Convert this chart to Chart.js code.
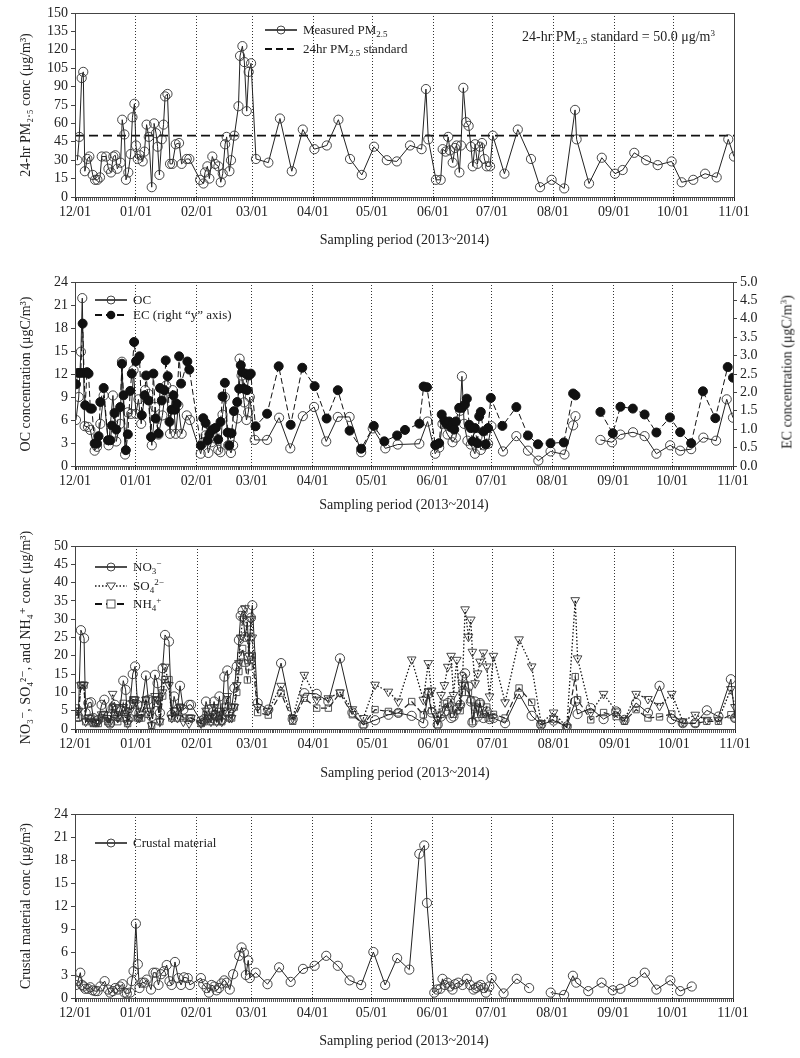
<!DOCTYPE html>
<html>
<head>
<meta charset="utf-8">
<script src="https://cdn.jsdelivr.net/npm/chart.js@4.4.1/dist/chart.umd.min.js"></script>
<style>
  html, body { margin: 0; padding: 0; background: #fff; }
  #wrap { position: relative; width: 800px; height: 1058px; font-family: 'Liberation Serif', 'DejaVu Serif', serif; color: #222; }
  #wrap canvas { position: absolute; left: 0; }
  .lg { position: absolute; display: flex; align-items: center; height: 16px; font-size: 13px; white-space: nowrap; }
  .lg svg { margin-right: 6px; }
  .lg sub, .note sub { font-size: 9px; vertical-align: -3px; }
  .lg sup, .note sup, .rt sup { font-size: 9px; vertical-align: 5px; }
  .note { position: absolute; font-size: 14px; white-space: nowrap; }
  .rt { position: absolute; font-size: 14px; white-space: nowrap; transform: translate(-50%, -50%) rotate(-90deg); }
</style>
</head>
<body>
<div id="wrap">
  <canvas id="c1" width="800" height="252" style="top:0px"></canvas>
  <canvas id="c2" width="800" height="264" style="top:252px"></canvas>
  <canvas id="c3" width="800" height="268" style="top:516px"></canvas>
  <canvas id="c4" width="800" height="274" style="top:784px"></canvas>
</div>
<script>
// 12/01/2013 기준 경과일(day) 로 x 값 표현
const MONTH_DAYS   = [0, 31, 62, 90, 121, 151, 182, 212, 243, 274, 304, 335];
const MONTH_LABELS = ['12/01', '01/01', '02/01', '03/01', '04/01', '05/01', '06/01', '07/01', '08/01', '09/01', '10/01', '11/01'];
const DAY_TICKS    = Array.from({ length: 336 }, (_, i) => i);

// ── PM2.5 ──
const pmDays = [1.2,2.2,3.4,4.2,5,6.3,7.3,9,10.2,11.4, 12.7,13.6,15.8,17,18.3,19.5,20.5,21.5,23.2,24,
  25.1,25.9,27.1,28.3,29.2,30.2,31,31.9,33,34.4, 35.3,36.4,37.5,39,40.2,41.2,42,42.9,44.1,45,
  45.8,47,48.3,49.5,51.2,52.9,54.2,56.8,58.1,63.6, 65.3,66.1,67.3,68.3,69.8,71.2,72.9,74.1,75.1,76.3,
  77.1,78.5,79.3,81,83.1,83.9,85.1,86.1,87.3,88.3, 89.5,92,98.3,104.2,110.2,115.8,121.7,128,133.9,139.8,
  145.8,152,158.5,163.6,170.3,176.2,178.4,179.6,183.5,185.9, 186.9,188.4,189.7,190.6,192,193.2,194,195.4,196.2,197.4,
  198.8,200.1,201.3,202.2,203.4,204.6,205.9,206.9,208.1,209.3, 211,212.4,218.3,225.1,231.8,236.4,242.3,248.7,254.2,255,
  261.3,267.8,274.5,278.4,284.3,290.3,296.2,303.3,308.4,314.3, 320.3,326.2,332.1,335];
const pmVals = [30,49,97,102,21,31,33,18,14,14, 16,33,33,23,20,33,34,23,28,63,
  51,14,20,35,65,76,42,31,34,29, 37,59,49,8,60,52,41,18,47,59,
  82,84,27,27,43,44,27,31,31,14, 11,20,25,15,33,27,25,12,19,43,
  49,21,30,50,74,115,123,110,70,102, 109,31,28,64,21,55,39,42,63,31,
  18,41,30,29,42,39,88,47,14,14, 39,37,49,38,28,40,42,20,42,89,
  61,58,41,25,43,27,41,44,31,25, 25,50,19,55,31,8,14,7,71,47,
  11,32,19,22,36,30,26,29,12,14, 19,16,47,33];
const stdDays = [0, 335];
const stdVals = [50, 50];

// ── OC / EC ──
const ocDays = [0.5,1.9,3,3.7,4.9,6.6,7.8,10,11.2,12.9, 14.6,17.1,19.3,21,23,23.9,25.5,26.9,28.6,29.8,
  31,32.3,33.7,35.7,37.4,39.1,40.8,42.5,44.5,46.4, 48.4,49.7,51.3,52.6,54.3,56.9,58.5,64,65.3,66.5,
  67.9,69.5,71.2,72.9,74.1,75.1,76.3,78,79.4,80.5, 82.6,83.8,84.8,86.1,87.3,88.2,89,91.5,97.8,103.9,
  109.6,116,121.7,127.9,133.8,139.8,145.7,151.6,158,164.3, 175.3,179.5,183.4,185.4,187.1,189.7,192.2,193.9,196.1,197,
  198.1,199.8,201.5,203.6,204.9,206.6,208.3,210.3,212,217.9, 224.7,230.6,235.9,242.1,249.2,253.6,254.8,260,267.5,273.4,
  277.7,284.1,290,296,303,308.1,313.7,319.9,326.4,331.8, 335];
const ocVals = [6.0,9.0,14.9,21.9,5.2,5.1,4.7,2.0,2.5,5.5, 9.2,2.7,9.2,3.2,5.5,13.6,1.5,7.0,6.8,12.5,
  6.8,8.7,5.5,9.9,9.4,2.7,7.7,4.1,6.6,10.5, 4.2,9.9,4.2,7.9,4.2,6.6,6.0,1.6,3.1,4.0,
  1.7,3.1,3.6,2.1,1.8,6.7,9.0,2.7,1.7,2.7, 6.2,14.0,11.8,8.3,6.0,7.0,9.0,3.4,3.4,6.3,
  2.3,6.5,7.7,3.2,6.4,6.4,1.8,4.9,2.3,2.8, 2.9,5.8,1.6,2.4,5.5,4.1,3.1,3.7,7.2,11.7,
  5.5,3.3,2.8,1.6,3.8,2.1,2.7,2.9,5.2,1.9, 3.9,2.0,0.7,1.9,1.5,5.3,6.5,null,3.4,3.1,
  4.1,4.4,3.9,1.6,2.7,2.0,2.2,3.7,3.3,8.7, 6.3];
const ecDays = [0.5,1.5,2.9,3.9,4.6,5.2,6.1,6.9,7.8,8.6, 10,11.2,12,12.9,14.6,16.8,18,18.8,20.1,21,
  23,23.9,24.7,25.9,26.9,28.1,28.9,30.1,31.1,32.8, 34,35.4,36.2,37.4,38.7,39.9,41.1,42.5,43.3,44.2,
  45.5,46.2,47.2,48.1,49.2,50.1,50.9,51.8,53,54, 57.2,58.2,64.1,65.3,66.5,67.5,68.4,69.5,70.7,71.7,
  72.9,74.1,75.1,76.3,77.7,78.5,79.7,80.9,82.6,83.6, 84.4,85.1,86,87,87.6,88.5,89.5,91.9,97.8,103.7,
  109.8,115.7,122,128.1,133.8,139.8,145.7,152.1,157.5,164, 168,175.3,177.5,179.2,183.4,185.4,186.7,188,189.2,190.5,
  191.4,192.2,193.1,193.9,195.6,197,198.5,199.5,200.7,201.5, 202.4,203.6,204.9,205.8,206.6,207.9,209.1,210.3,211.7,217.6,
  224.7,230.6,235.7,242.1,248.9,253.6,254.8,260,267.5,273.8, 277.7,284,290,296,302.9,308.1,313.7,319.7,326,332.3, 335];
const ecVals = [2.22,2.53,2.53,3.87,2.53,1.65,2.55,2.51,1.56,1.56, 0.61,0.61,0.81,1.74,2.12,0.70,0.70,1.10,1.44,0.99,
  1.60,2.78,1.92,0.43,0.86,2.04,2.51,3.37,2.85,2.98, 1.38,1.92,2.46,1.78,0.79,2.51,1.29,0.88,2.12,1.78,
  2.06,2.87,2.44,1.20,1.53,1.92,1.53,1.69,2.98,2.24, 2.84,2.62,0.56,1.30,1.17,0.70,0.86,0.97,1.01,1.04,
  0.72,1.20,1.89,2.26,0.91,0.56,0.89,1.49,1.74,2.10, 2.74,2.55,2.10,2.51,2.06,2.46,2.51,1.08,1.42,2.71,
  1.12,2.67,2.17,1.29,2.06,0.96,0.47,1.09,0.67,0.83, 0.98,1.15,2.16,2.14,0.57,0.62,1.40,1.23,1.14,1.21,
  1.05,1.14,0.99,1.21,1.58,1.58,1.67,1.83,1.12,1.03, 0.67,1.03,0.62,1.35,1.47,0.94,0.59,1.03,1.85,1.09,
  1.60,0.83,0.59,0.62,0.64,1.97,1.92,null,1.47,0.89, 1.61,1.56,1.40,0.91,1.32,0.92,0.62,2.03,1.30,2.69, 2.4];

// ── 이온 성분 (같은 샘플링 날짜) ──
const ionDays = [0.8,1.7,3,4.6,5.4,6.8,8.1,9.3,10.7,11.8, 13.5,14.9,16.6,17.8,19.1,20.3,21.7,22.8,24.5,25.7,
  26.7,27.9,29.3,30.5,31.8,32.7,33.8,36,37.2,38.9, 40.6,41.9,43.1,44.5,45.7,47.7,49.1,50.3,52,53.3,
  55,57.9,58.9,64,65.5,66.5,67.7,69,70.6,71.9, 73.3,74.5,75.8,77.3,78.3,79.5,80.9,82.1,83.2,84.1,
  85.1,86.3,87.5,88.3,89.3,90,92.7,98.1,104.6,110.5, 116.4,122.7,128.6,134.5,140.8,146.4,152.3,159.1,164.1,170.9,
  176.8,179.3,181,184.1,185.8,187.5,189.2,190.9,192.1,193.8, 195.5,196.6,198,199.7,200.9,201.7,203.1,204.4,205.6,207.3,
  209,210.4,212.4,218.3,225.4,231.8,236.6,242.9,249.6,253.9, 255.1,261.8,268.3,274.7,278.9,284.8,290.8,296.7,302.9,308.5,
  314.8,320.7,326.6,332.9,335];
const no3Vals = [5.4,3.4,27,24.8,4.4,7.1,7.3,3.0,2.1,2.5, 6.6,8.0,3.4,1.5,5.7,6.6,3.4,5.3,13.2,10.7,
  2.5,6.6,15.0,17.1,6.6,4.4,6.2,14.6,8.0,3.4, 14.8,12.5,4.4,16.6,25.7,23.9,3.9,8.9,5.3,11.8,
  5.3,6.6,6.6,2.1,2.7,7.5,5.3,3.0,7.5,3.4, 8.9,2.5,14.3,16.0,4.4,5.7,11.2,17.1,24.3,30.9,
  32.3,25.2,29.3,19.8,30.4,33.8,7.1,5.3,18.0,2.7, 9.8,9.6,7.5,19.3,4.5,1.2,2.4,3.9,4.4,3.6,
  1.6,9.6,4.5,1.2,3.4,4.8,7.1,3.0,3.4,5.3, 6.6,14.3,15.2,11.6,7.5,1.8,7.5,3.4,7.1,3.0,
  4.8,2.7,3.0,1.6,9.6,3.6,1.2,2.3,0.7,7.5, 4.1,5.7,2.7,4.8,2.5,7.1,4.4,11.8,2.7,1.6,
  1.6,5.1,3.4,13.6,3];
const so4Vals = [5,5,12,12,2,3,2,2,2,2, 4,4,3,2,9.6,6,3,4,6,3,
  1.5,5,7,8,3,3,4,8,5,1, 9,8,2,10,17,12,3,5,3,6,
  2,1.5,3,1.5,2,5,3,2,6,2, 5,2,5,9,3,3,6,12,18,25,
  30,33,25,20,30,25,6,5,11.8,3, 14.8,8,8.4,10,5.4,3,12.1,10.2,7.5,19.0,
  8,18,10.5,2.5,9.3,12,17,20,9.3,18.9, 6.2,12,32.7,25.2,29.9,21.1,12.5,15.2,18.4,20.9,
  17.1,8.9,20,7.3,24.5,17.1,1.6,4.5,0.5,35.2, 19.3,4.5,9.6,4.8,2.5,9.6,8.2,6.3,9.6,2.1,
  3.9,2.5,2.5,10.9,6];
const nh4Vals = [3,3,12,12,2,3,3,1.5,1.5,1.5, 3,4,2,1.5,6,4,2,3,7,5,
  1.5,3,8,8,3,3,3,8,4,1, 8,7,2,9,13.5,13.5,3,5,3,6,
  3,3,3,1.5,2,4,3,2,4,2, 4,2,6,8,3,3,6,10,15.7,20,
  22,18,13.4,17,19,20,4.5,3.8,9.8,2.1, 8.4,5.7,5.7,9.8,3.9,1.2,5.3,4.8,4.4,7.5,
  3.9,10.2,5,1.2,4,7,6,8,4,6, 5,10,12,10,8,2,6,4,7,4,
  6,3,4,3,11.2,7.3,1.2,2.7,0.5,14.3, 8,2.5,4.5,3.4,2.1,5.3,3,3.3,4.1,1.6,
  1.5,2.1,2.1,3.9,3];

// ── 지각 물질 ──
const crDays = [0.5,1.5,2.7,3.6,4.4,5.2,6.6,7.8,9,10.3, 11.5,12.9,15.1,16.8,17.9,19.3,20.5,21.8,23,24.2,
  25.2,26.4,28.1,28.9,29.8,31,32,32.8,34,35.4, 36.5,38.7,39.9,41.1,42.5,43.8,45.3,46.7,48.1,49.2,
  50.9,52.6,54,55.5,57.4,58.5,64.1,65.3,67,68.2, 69.5,70.9,72.1,73.3,74.6,76,77.2,78.8,80.5,83.6,
  84.8,86,87,88.2,89,92,98,103.9,109.8,116.1, 122,127.9,133.8,139.8,145.7,151.9,157.9,164,170.2,175.3,
  177.8,179.2,182.9,184.3,186,187.1,188.3,189.6,191,192.2, 193.5,195.1,197.3,199.5,201.2,202.9,204.1,205.3,206.6,208,
  209.2,210.9,212.1,218.2,224.9,231.2,237,242.2,249,253.5, 255.2,261.3,268.1,273.8,277.7,284.2,290.1,296,303.1,308.1, 314];
const crVals = [1.7,2.2,3.3,1.7,1.5,1.2,1.2,1.4,1.0,0.9, 0.9,1.5,2.2,1.1,0.7,0.9,1.3,1.1,1.5,1.8,
  0.7,0.6,0.7,2.2,3.5,9.7,4.4,1.3,2.0,2.0, 2.4,1.1,3.3,3.3,1.7,3.1,3.5,4.3,2.2,1.7,
  4.7,2.6,1.7,2.7,2.6,1.7,2.6,1.8,1.3,0.7, 1.7,1.5,1.0,1.3,1.9,2.3,2.0,1.1,3.1,5.5,
  6.6,5.9,3.0,4.9,2.6,3.3,1.8,4.0,2.1,3.8, 4.2,5.5,4.2,2.3,1.7,6.0,1.7,5.2,3.7,18.8,
  19.9,12.4,0.7,1.1,1.2,2.5,1.7,2.0,1.5,1.1, 1.8,2.0,1.7,2.5,1.7,1.1,1.3,1.5,1.7,1.3,
  0.7,1.5,2.6,0.6,2.5,1.3,null,0.7,0.4,2.9, 2.0,0.9,2.0,1.0,1.2,2.1,3.3,1.1,2.3,0.9, 1.5];

const INK  = '#222';
const AXIS = '#444';
const FONT = "'Liberation Serif', 'DejaVu Serif', serif";
Chart.defaults.font.family = FONT;
Chart.defaults.font.size   = 14;
Chart.defaults.color       = INK;

const pts = (xs, ys) => xs.map((x, i) => ({ x, y: ys[i] }));

// 플롯 영역 테두리
const frame = {
  id: 'frame',
  afterDatasetsDraw(chart) {
    const { ctx, chartArea: a } = chart;
    ctx.save();
    ctx.strokeStyle = AXIS;
    ctx.lineWidth = 1;
    ctx.strokeRect(Math.round(a.left) + 0.5, Math.round(a.top) + 0.5, Math.round(a.width), Math.round(a.height));
    ctx.restore();
  },
};

function xScale(axisH, titlePad) {
  return {
    type: 'linear', min: 0, max: 335,
    afterBuildTicks: (s) => { s.ticks = DAY_TICKS.map((v) => ({ value: v })); },
    afterFit: (s) => { s.height = axisH; },
    ticks: {
      autoSkip: false, maxRotation: 0, minRotation: 0, padding: 3,
      callback: (v) => { const i = MONTH_DAYS.indexOf(v); return i >= 0 ? MONTH_LABELS[i] : ''; },
    },
    grid: {
      color: (c) => (c.tick && MONTH_DAYS.includes(c.tick.value)) ? '#333' : 'rgba(0,0,0,0)',
      tickColor: (c) => (c.tick && MONTH_DAYS.includes(c.tick.value)) ? '#222' : '#555',
      tickLength: 4, lineWidth: 1,
    },
    border: { color: AXIS, dash: [1, 2] },
    title: { display: true, text: 'Sampling period (2013~2014)', padding: { top: 0, bottom: titlePad } },
  };
}

function yScale(min, max, step, title, extra) {
  return Object.assign({
    type: 'linear', position: 'left', min, max,
    afterFit: (s) => { s.width = 75; },
    ticks: { stepSize: step, padding: 3, autoSkip: false },
    grid: { drawOnChartArea: false, tickLength: 4, color: AXIS },
    border: { color: AXIS },
    title: { display: !!title, text: title, padding: { top: 18, bottom: 0 } },
  }, extra || {});
}

const base = (padTop, padRight) => ({
  responsive: false,
  animation: false,
  layout: { padding: { top: padTop, right: padRight, left: 0, bottom: 0 } },
  plugins: { legend: { display: false }, tooltip: { enabled: false } },
});

const openCircle = { pointStyle: 'circle', pointRadius: 4.6, pointBackgroundColor: 'rgba(255,255,255,0)', pointBorderColor: '#333', pointBorderWidth: 0.9 };

// ── 1. PM2.5 ──
new Chart(document.getElementById('c1'), {
  type: 'line',
  data: {
    datasets: [
      Object.assign({ data: pts(pmDays, pmVals), borderColor: INK, borderWidth: 1, tension: 0 }, openCircle),
      { data: pts(stdDays, stdVals), borderColor: '#111', borderWidth: 1.8, borderDash: [9, 5], pointRadius: 0 },
    ],
  },
  options: Object.assign(base(13, 66), {
    scales: {
      x: xScale(55, 3.6),
      y: yScale(0, 150, 15, '24-hr PM\u2082.\u2085 conc (\u03bcg/m\u00b3)'),
    },
  }),
  plugins: [frame],
});

// ── 2. OC / EC ──
new Chart(document.getElementById('c2'), {
  type: 'line',
  data: {
    datasets: [
      { data: pts(ecDays, ecVals), yAxisID: 'y1', order: 0, borderColor: '#111', borderWidth: 1, borderDash: [6, 3],
        pointStyle: 'circle', pointRadius: 4.5, pointBackgroundColor: '#111', pointBorderColor: '#111', pointBorderWidth: 1 },
      Object.assign({ data: pts(ocDays, ocVals), yAxisID: 'y', order: 1, borderColor: INK, borderWidth: 1 }, openCircle),
    ],
  },
  options: Object.assign(base(30, 0), {
    scales: {
      x: xScale(50, 2.6),
      y: yScale(0, 24, 3, 'OC concentration (\u03bcgC/m\u00b3)'),
      y1: yScale(0, 5, 0.5, '', {
        position: 'right',
        afterFit: (s) => { s.width = 67; },
        ticks: { stepSize: 0.5, padding: 3, autoSkip: false, callback: (v) => v.toFixed(1) },
      }),
    },
  }),
  plugins: [frame],
});

// ── 3. NO3, SO4, NH4 ──
new Chart(document.getElementById('c3'), {
  type: 'line',
  data: {
    datasets: [
      Object.assign({ data: pts(ionDays, no3Vals), borderColor: INK, borderWidth: 1 }, openCircle),
      { data: pts(ionDays, so4Vals), borderColor: '#111', borderWidth: 1.3, borderDash: [1.5, 2],
        pointStyle: 'triangle', pointRotation: 180, pointRadius: 5, pointBackgroundColor: 'rgba(255,255,255,0)', pointBorderColor: '#333', pointBorderWidth: 0.9 },
      { data: pts(ionDays, nh4Vals), borderColor: '#222', borderWidth: 1.2, borderDash: [6, 3],
        pointStyle: 'rect', pointRadius: 4.5, pointBackgroundColor: 'rgba(255,255,255,0)', pointBorderColor: '#444', pointBorderWidth: 0.9 },
    ],
  },
  options: Object.assign(base(30, 65), {
    scales: {
      x: xScale(55, 2.6),
      y: yScale(0, 50, 5, 'NO\u2083\u207b, SO\u2084\u00b2\u207b, and NH\u2084\u207a conc (\u03bcg/m\u00b3)'),
    },
  }),
  plugins: [frame],
});

// ── 4. Crustal material ──
new Chart(document.getElementById('c4'), {
  type: 'line',
  data: {
    datasets: [
      Object.assign({ data: pts(crDays, crVals), borderColor: INK, borderWidth: 1 }, openCircle),
    ],
  },
  options: Object.assign(base(30, 67), {
    scales: {
      x: xScale(60, 8.6),
      y: yScale(0, 24, 3, 'Crustal material conc (\u03bcg/m\u00b3)'),
    },
  }),
  plugins: [frame],
});

// ── 범례 / 주석 (아래첨자 때문에 HTML) ──
const wrap = document.getElementById('wrap');
function sample(kind) {
  const line = {
    solid:  '<line x1="0" y1="6" x2="32" y2="6" stroke="#222" stroke-width="1.6"/>',
    dashed: '<line x1="0" y1="6" x2="32" y2="6" stroke="#111" stroke-width="1.8" stroke-dasharray="7,4"/>',
    dotted: '<line x1="0" y1="6" x2="32" y2="6" stroke="#111" stroke-width="1.3" stroke-dasharray="1.5,2"/>',
  };
  const mk = {
    none:   '',
    circle: '<circle cx="16" cy="6" r="4" fill="none" stroke="#333" stroke-width="0.9"/>',
    filled: '<circle cx="16" cy="6" r="4.3" fill="#111"/>',
    tri:    '<path d="M11.5 3 L20.5 3 L16 10 Z" fill="#fff" stroke="#333" stroke-width="0.9"/>',
    rect:   '<rect x="12" y="2" width="8" height="8" fill="#fff" stroke="#444" stroke-width="0.9"/>',
  };
  return `<svg width="32" height="12">${line[kind[0]]}${mk[kind[1]]}</svg>`;
}
function legendRow(left, cy, kind, html) {
  const d = document.createElement('div');
  d.className = 'lg';
  d.style.left = left + 'px';
  d.style.top = (cy - 8) + 'px';
  d.innerHTML = sample(kind) + `<span>${html}</span>`;
  wrap.appendChild(d);
}
legendRow(265, 30, ['solid', 'circle'], 'Measured PM<sub>2.5</sub>');
legendRow(265, 49, ['dashed', 'none'], '24hr PM<sub>2.5</sub> standard');
legendRow(95, 300, ['solid', 'circle'], 'OC');
legendRow(95, 315, ['dashed', 'filled'], 'EC (right \u201cy\u201d axis)');
legendRow(95, 567, ['solid', 'circle'], 'NO<sub>3</sub><sup>\u2212</sup>');
legendRow(95, 586, ['dotted', 'tri'], 'SO<sub>4</sub><sup>2\u2212</sup>');
legendRow(95, 604, ['dashed', 'rect'], 'NH<sub>4</sub><sup>+</sup>');
legendRow(95, 843, ['solid', 'circle'], 'Crustal material');

const note = document.createElement('div');
note.className = 'note';
note.style.left = '522px';
note.style.top = '28px';
note.innerHTML = '24-hr PM<sub>2.5</sub> standard = 50.0 \u03bcg/m<sup>3</sup>';
wrap.appendChild(note);

const ecTitle = document.createElement('div');
ecTitle.className = 'rt';
ecTitle.style.left = '787px';
ecTitle.style.top = '372px';
ecTitle.innerHTML = 'EC concentration (\u03bcgC/m<sup>3</sup>)';
wrap.appendChild(ecTitle);
</script>
</body>
</html>
